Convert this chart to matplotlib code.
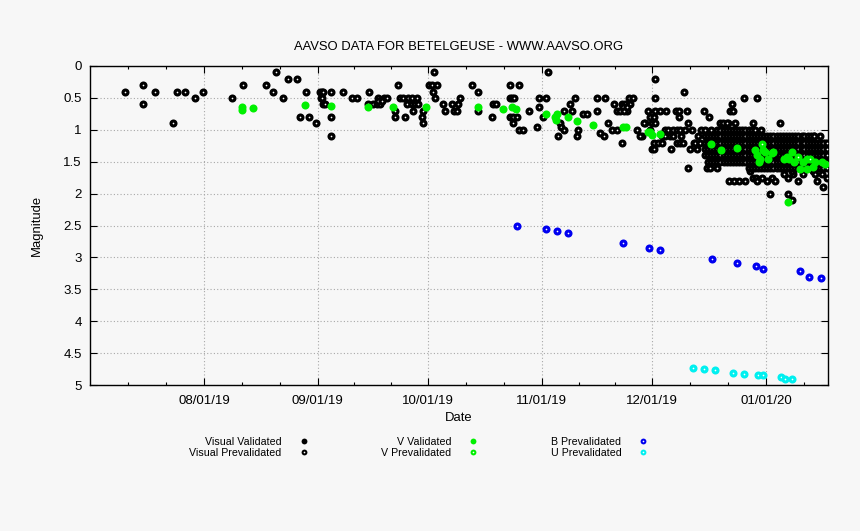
import numpy as np
import matplotlib
matplotlib.use("Agg")
import matplotlib.pyplot as plt
import matplotlib.dates as mdates
import matplotlib.ticker as mticker
from matplotlib.lines import Line2D
from datetime import datetime

# ---------------- data (day = days since 2019-07-01, value = magnitude) ----------------
visual_jul_sep = [
    (9.5, 0.4), (14.5, 0.3), (14.5, 0.6), (17.7, 0.4), (22.7, 0.9), (23.8, 0.4), (25.8, 0.4),
    (28.7, 0.5), (30.7, 0.4), (38.7, 0.5), (41.7, 0.3), (47.8, 0.3), (49.7, 0.4), (50.5, 0.1),
    (52.6, 0.5), (53.8, 0.2), (56.4, 0.2), (58.8, 0.4), (57.3, 0.8), (59.6, 0.8), (61.4, 0.9),
    (62.6, 0.4), (63.1, 0.4), (63.5, 0.4), (62.8, 0.5), (63.1, 0.5), (63.5, 0.6), (64.0, 0.6),
    (65.5, 0.4), (65.5, 0.8), (65.5, 1.1), (68.8, 0.4), (71.4, 0.5), (72.6, 0.5), (76.0, 0.4),
    (75.7, 0.6), (77.1, 0.6), (78.0, 0.6), (79.0, 0.6), (78.5, 0.5), (79.9, 0.5), (80.9, 0.5),
    (78.5, 0.55), (79.6, 0.55), (83.9, 0.3), (83.0, 0.7), (83.0, 0.8), (85.8, 0.8),
    (84.4, 0.5), (85.3, 0.5), (86.7, 0.5), (87.6, 0.5), (88.9, 0.5),
    (86.2, 0.6), (87.6, 0.6), (88.5, 0.6), (89.4, 0.6),
    (88.0, 0.7), (90.7, 0.7), (90.3, 0.8), (90.7, 0.9),
]
visual_oct_nov = [
    (92.4, 0.3), (93.0, 0.3), (93.7, 0.1), (94.4, 0.3), (93.5, 0.4), (93.9, 0.5),
    (96.0, 0.6), (96.7, 0.7), (98.5, 0.6), (99.1, 0.7), (99.8, 0.7), (100.3, 0.6), (100.7, 0.5),
    (103.9, 0.3), (105.7, 0.4), (105.7, 0.7), (109.6, 0.6), (110.5, 0.6), (109.4, 0.8),
    (114.2, 0.3), (116.9, 0.3), (114.2, 0.5), (114.8, 0.5), (115.5, 0.5),
    (114.2, 0.8), (115.1, 0.8), (115.1, 0.9), (116.9, 1.0), (117.8, 1.0), (116.2, 0.8),
    (119.6, 0.7), (121.6, 0.95), (122.1, 0.5), (124.1, 0.5), (122.1, 0.65), (124.6, 0.1), (123.4, 0.8),
    (128.9, 0.7), (128.0, 0.9), (128.2, 0.95), (128.9, 1.0), (127.5, 1.1),
    (130.7, 0.6), (132.0, 0.5), (131.1, 0.7), (132.9, 1.0), (132.5, 1.1), (134.3, 0.75), (135.2, 0.75),
    (137.9, 0.5), (140.2, 0.5), (137.9, 0.7), (138.9, 1.05), (139.8, 1.1), (141.1, 0.9), (142.0, 1.0),
    (142.7, 0.6), (143.4, 0.7), (144.3, 0.7), (144.8, 0.6), (145.7, 0.6), (146.1, 0.7),
    (146.6, 0.5), (147.7, 0.5), (147.0, 0.6), (145.0, 0.65), (145.4, 0.7), (146.3, 0.65),
    (143.4, 1.0), (144.8, 1.2), (148.8, 1.0), (150.2, 1.1), (151.1, 0.9), (152.0, 0.7), (152.5, 0.8),
]
visual_dec = [
    (153.8, 0.2), (153.8, 0.5), (153.8, 0.7), (155.2, 0.7), (156.8, 0.7),
    (153.4, 0.8), (150.8, 0.9), (152.9, 0.9), (153.8, 0.9), (149.7, 1.1),
    (153.4, 1.2), (154.7, 1.2), (155.6, 1.2), (153.0, 1.3), (153.4, 1.3), (158.1, 1.3),
    (156.6, 1.0), (157.4, 1.0), (158.8, 1.0), (159.7, 1.0), (160.6, 1.0),
    (157.9, 1.1), (158.8, 1.1), (159.7, 1.2), (160.6, 1.2), (161.5, 1.2),
    (159.5, 0.7), (160.4, 0.7), (162.4, 0.7), (160.4, 0.8), (162.9, 0.9), (163.8, 1.0),
    (164.3, 1.2), (164.7, 1.2), (163.4, 1.3), (161.8, 0.4), (162.9, 1.6), (167.2, 0.7), (168.6, 0.8),
    (152.5, 1.0), (155.6, 1.1), (156.5, 1.1), (161.0, 1.1), (162.0, 1.0), (165.5, 1.1),
    (166.2, 1.0), (166.0, 1.2), (165.2, 1.3),
    (171.4, 0.9), (172.3, 0.9), (173.6, 0.9), (175.7, 0.9), (174.7, 0.6), (174.1, 0.7), (175.0, 0.7),
    (177.9, 0.5), (181.7, 0.5), (180.6, 0.9), (187.9, 0.9),
    (167.9, 1.6), (168.8, 1.6), (169.7, 1.5), (170.1, 1.5), (170.6, 1.6),
    (174.0, 1.8), (175.3, 1.8), (176.7, 1.8), (178.2, 1.8), (179.7, 1.65), (180.4, 1.75),
    (181.3, 1.75), (181.7, 1.8), (182.9, 1.75), (184.2, 1.8), (185.6, 1.75), (186.5, 1.8), (185.1, 2.0),
    (188.8, 1.7), (190.1, 1.75), (191.5, 1.7), (192.8, 1.8), (191.2, 1.65), (194.2, 1.7),
    (196.9, 1.65), (197.4, 1.7), (197.8, 1.8), (199.2, 1.7),
    (190.1, 2.0), (191.0, 2.1), (197.1, 1.1), (199.6, 1.9), (200.1, 1.2), (200.6, 1.75),
]
# dense late-December / January block: one column per observing date
dense_days = [167.4, 168.2, 169.1, 170.0, 170.8, 171.6, 172.5, 173.3, 174.2, 175.0,
              175.9, 176.7, 177.6, 178.4, 179.3, 180.1, 181.0, 181.8, 182.6, 183.5,
              184.3, 185.2, 186.0, 186.9, 187.7, 188.6, 189.4, 190.3, 191.1, 192.0,
              192.8, 193.7, 194.5, 195.4, 196.2, 197.1, 197.9, 198.8, 199.6, 200.5]
dense_mags = [
    [1.0, 1.1, 1.2, 1.3, 1.4], [1.1, 1.2, 1.3, 1.4, 1.5], [1.0, 1.1, 1.2, 1.3, 1.4, 1.5],
    [1.1, 1.2, 1.3, 1.4, 1.5], [1.0, 1.1, 1.2, 1.3, 1.4, 1.5], [1.0, 1.1, 1.2, 1.3, 1.4, 1.5],
    [1.0, 1.1, 1.2, 1.3, 1.4, 1.5], [0.9, 1.0, 1.1, 1.2, 1.3, 1.4, 1.5], [1.0, 1.1, 1.2, 1.3, 1.4, 1.5],
    [1.0, 1.1, 1.2, 1.3, 1.4, 1.5], [1.0, 1.1, 1.2, 1.3, 1.4, 1.5], [1.0, 1.1, 1.2, 1.3, 1.4, 1.5],
    [1.0, 1.1, 1.2, 1.3, 1.4, 1.5], [1.0, 1.1, 1.2, 1.3, 1.4, 1.5], [1.0, 1.1, 1.2, 1.3, 1.4, 1.5, 1.6],
    [1.0, 1.1, 1.2, 1.3, 1.4, 1.5, 1.6], [1.0, 1.1, 1.2, 1.3, 1.4, 1.5, 1.6], [1.1, 1.2, 1.3, 1.4, 1.5, 1.6],
    [1.0, 1.1, 1.2, 1.3, 1.4, 1.5, 1.6], [1.1, 1.2, 1.3, 1.4, 1.5, 1.6], [1.1, 1.2, 1.3, 1.4, 1.5, 1.6],
    [1.1, 1.2, 1.3, 1.4, 1.5, 1.6], [1.1, 1.2, 1.3, 1.4, 1.5, 1.6], [1.1, 1.2, 1.3, 1.4, 1.5, 1.6],
    [1.1, 1.2, 1.3, 1.4, 1.5, 1.6], [1.1, 1.2, 1.3, 1.4, 1.5, 1.6], [1.1, 1.2, 1.3, 1.4, 1.5, 1.6],
    [1.1, 1.2, 1.3, 1.4, 1.5, 1.6], [1.1, 1.2, 1.3, 1.4, 1.5, 1.6], [1.1, 1.2, 1.3, 1.4, 1.5, 1.6],
    [1.1, 1.2, 1.3, 1.4, 1.5, 1.6], [1.1, 1.2, 1.3, 1.4, 1.5, 1.6], [1.1, 1.2, 1.3, 1.4, 1.5, 1.6],
    [1.1, 1.2, 1.3, 1.4, 1.5, 1.6], [1.1, 1.2, 1.3, 1.4, 1.5, 1.6], [1.1, 1.2, 1.3, 1.4, 1.5, 1.6],
    [1.2, 1.3, 1.4, 1.5, 1.6], [1.1, 1.2, 1.3, 1.4, 1.5, 1.6], [1.2, 1.3, 1.4, 1.5, 1.6],
    [1.2, 1.3, 1.4, 1.5, 1.6],
]
v_validated = [
    (41.3, 0.64), (41.5, 0.69), (44.5, 0.66), (58.5, 0.61), (65.5, 0.62), (75.8, 0.64), (82.6, 0.65),
    (91.6, 0.64), (105.7, 0.65), (112.5, 0.68), (114.8, 0.65), (116.0, 0.68), (124.1, 0.76),
    (126.6, 0.80), (127.2, 0.76), (126.9, 0.84), (130.2, 0.80), (132.7, 0.86), (136.8, 0.93),
    (145.2, 0.96), (145.9, 0.96), (152.0, 1.04), (152.5, 1.04), (153.0, 1.08), (155.2, 1.06),
    (169.0, 1.22), (171.7, 1.32), (176.0, 1.29), (181.0, 1.32), (181.5, 1.40), (182.0, 1.50),
    (182.4, 1.45), (183.3, 1.32), (183.8, 1.35), (184.7, 1.45), (185.6, 1.37), (186.0, 1.35),
    (188.8, 1.45), (189.7, 1.43), (191.0, 1.35), (190.4, 1.45), (191.7, 1.50), (190.1, 2.13),
    (193.3, 1.61), (194.2, 1.50), (195.1, 1.45), (195.1, 1.61), (196.9, 1.58), (197.4, 1.50),
    (199.2, 1.50), (200.1, 1.53),
]
v_prevalidated = [(182.9, 1.22), (192.8, 1.43), (196.0, 1.46)]
b_prevalidated = [
    (116.2, 2.51), (124.1, 2.56), (127.2, 2.59), (130.2, 2.61), (145.2, 2.78), (152.3, 2.86),
    (155.2, 2.89), (169.3, 3.03), (176.2, 3.09), (181.3, 3.13), (183.1, 3.18), (193.3, 3.21),
    (195.8, 3.30), (199.0, 3.32),
]
u_prevalidated = [
    (164.1, 4.73), (167.2, 4.75), (170.2, 4.77), (175.1, 4.81), (178.1, 4.82), (181.9, 4.84),
    (183.1, 4.85), (188.1, 4.87), (189.3, 4.90), (191.2, 4.91),
]
xtick_labels = ["08/01/19", "09/01/19", "10/01/19", "11/01/19", "12/01/19", "01/01/20"]
ytick_values = [0, 0.5, 1, 1.5, 2, 2.5, 3, 3.5, 4, 4.5, 5]
legend_labels = ["Visual Validated", "Visual Prevalidated", "V Validated",
                 "V Prevalidated", "B Prevalidated", "U Prevalidated"]

# ---------------- style ----------------
plt.rcParams["font.family"] = ["Liberation Sans", "DejaVu Sans"]
BG = "#f7f7f7"
BLACK, GREEN, BLUE, CYAN = "#000000", "#00f000", "#0000f0", "#00f0f0"
W, H = 860, 531

fig = plt.figure(figsize=(W / 100, H / 100), dpi=100, facecolor=BG)
ax = fig.add_axes([90 / W, 1 - 385 / H, 738 / W, 319 / H])
ax.set_facecolor(BG)

T0 = mdates.date2num(datetime(2019, 7, 1))
BALL = 5.8
HL = 1.2


def balls(points, color, highlight=True, z=3):
    # each point drawn in turn (ball then its highlight), like the original plotter
    for d, m in points:
        x = T0 + d
        ax.plot([x], [m], ls="none", marker="o", ms=BALL, mfc=color, mec="none", zorder=z)
        if highlight:
            ax.plot([x], [m], ls="none", marker="o", ms=HL, mfc="white", mec="none", zorder=z)


dense_pts = [(d, m) for d, col in zip(dense_days, dense_mags) for m in col]
balls(visual_jul_sep + visual_oct_nov + visual_dec + dense_pts, BLACK, True, 3)
balls(v_validated, GREEN, False, 4)
balls(v_prevalidated, GREEN, True, 4)
balls(b_prevalidated, BLUE, True, 5)
balls(u_prevalidated, CYAN, True, 5)

# axes
ax.set_ylim(5, 0)
ax.set_xlim(T0, T0 + 200.9)
major = [mdates.date2num(datetime.strptime(s, "%m/%d/%y")) for s in xtick_labels]
ax.xaxis.set_major_locator(mticker.FixedLocator(major))
ax.xaxis.set_major_formatter(mticker.FixedFormatter(xtick_labels))
bounds = [T0] + major + [mdates.date2num(datetime(2020, 2, 1))]
minors = []
for a, b in zip(bounds[:-1], bounds[1:]):
    minors += [a + (b - a) / 3, a + 2 * (b - a) / 3]
ax.xaxis.set_minor_locator(mticker.FixedLocator(minors))
ax.set_yticks(ytick_values)
ax.set_yticklabels([f"{v:g}" for v in ytick_values])

ax.tick_params(which="both", direction="in", top=True, right=True, colors="black",
               labelsize=9.5, width=0.8)
ax.tick_params(which="major", length=5)
ax.tick_params(which="minor", length=2.3)
ax.tick_params(axis="x", pad=7.2)
ax.tick_params(axis="y", pad=6)
for s in ax.spines.values():
    s.set_color("black")
    s.set_linewidth(1.0)
ax.grid(True, which="major", color="#a8a8a8", ls=(0, (1, 2)), lw=0.8)
ax.set_axisbelow(True)

fig.text(459 / W, 1 - 46.5 / H, "AAVSO DATA FOR BETELGEUSE - WWW.AAVSO.ORG",
         ha="center", va="center", fontsize=9.4, color="black")
fig.text(459 / W, 1 - 418 / H, "Date", ha="center", va="center", fontsize=9.4)
fig.text(37 / W, 1 - 225.5 / H, "Magnitude", ha="center", va="center",
         rotation=90, fontsize=9.4)


def handle(color, hl):
    b = Line2D([], [], ls="none", marker="o", ms=4.2, mfc=color, mec="none")
    if hl:
        return (b, Line2D([], [], ls="none", marker="o", ms=1.2, mfc="white", mec="none"))
    return b


handles = [handle(BLACK, False), handle(BLACK, True), handle(GREEN, False),
           handle(GREEN, True), handle(BLUE, True), handle(CYAN, True)]
fig.legend(handles, legend_labels, ncol=3, markerfirst=False, frameon=False,
           loc="center", bbox_to_anchor=(418.5 / W, 1 - 447.4 / H),
           fontsize=7.7, handlelength=0.8, handletextpad=1.65, columnspacing=6.85,
           labelspacing=0.1, borderpad=0, numpoints=1)

fig.savefig("out.png", dpi=100, facecolor=BG)
